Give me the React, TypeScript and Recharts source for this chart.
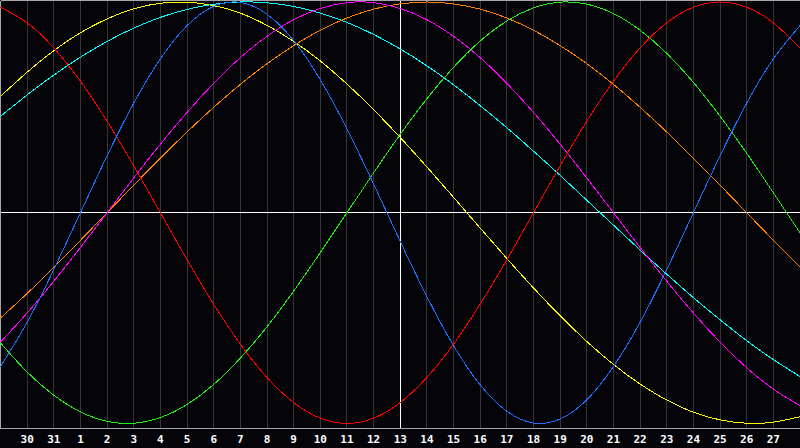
import React from 'react';
import { LineChart, Line, XAxis, YAxis, CartesianGrid, ReferenceLine } from 'recharts';

// day labels, previous month tail then current month
const days = [
  '29', '30', '31', '1', '2', '3', '4', '5', '6', '7', '8', '9', '10', '11', '12', '13',
  '14', '15', '16', '17', '18', '19', '20', '21', '22', '23', '24', '25', '26', '27', '28',
];
const todayLabel = '13';

// values, one per day (-1 .. 1)
const physical = [
  -0.73, -0.52, -0.27, 0, 0.27, 0.52, 0.73, 0.888, 0.979, 0.998, 0.942, 0.817, 0.631, 0.398, 0.136, -0.136,
  -0.398, -0.631, -0.817, -0.942, -0.998, -0.979, -0.888, -0.73, -0.52, -0.27, 0, 0.27, 0.52, 0.73, 0.888,
];
const emotional = [
  0.975, 0.901, 0.782, 0.624, 0.434, 0.223, 0, -0.223, -0.434, -0.624, -0.782, -0.901, -0.975, -1, -0.975, -0.901,
  -0.782, -0.624, -0.434, -0.223, 0, 0.223, 0.434, 0.624, 0.782, 0.901, 0.975, 1, 0.975, 0.901, 0.782,
];
const intellectual = [
  -0.618, -0.756, -0.866, -0.945, -0.99, -0.999, -0.972, -0.91, -0.815, -0.69, -0.541, -0.372, -0.189, 0, 0.189, 0.372,
  0.541, 0.69, 0.815, 0.91, 0.972, 0.999, 0.99, 0.945, 0.866, 0.756, 0.618, 0.458, 0.282, 0.095, -0.095,
];
const intuitive = [
  -0.614, -0.476, -0.325, -0.165, 0, 0.165, 0.325, 0.476, 0.614, 0.736, 0.837, 0.916, 0.969, 0.997, 0.997, 0.969,
  0.916, 0.837, 0.736, 0.614, 0.476, 0.325, 0.165, 0, -0.165, -0.325, -0.476, -0.614, -0.736, -0.837, -0.916,
];
const aesthetic = [
  0.552, 0.667, 0.769, 0.854, 0.92, 0.968, 0.994, 0.999, 0.983, 0.947, 0.889, 0.813, 0.72, 0.611, 0.489, 0.357,
  0.217, 0.073, -0.073, -0.217, -0.357, -0.489, -0.611, -0.72, -0.813, -0.889, -0.947, -0.983, -0.999, -0.994, -0.968,
];
const awareness = [
  -0.5, -0.383, -0.259, -0.131, 0, 0.131, 0.259, 0.383, 0.5, 0.609, 0.707, 0.793, 0.866, 0.924, 0.966, 0.991,
  1, 0.991, 0.966, 0.924, 0.866, 0.793, 0.707, 0.609, 0.5, 0.383, 0.259, 0.131, 0, -0.131, -0.259,
];
const spiritual = [
  0.457, 0.559, 0.653, 0.738, 0.813, 0.876, 0.927, 0.965, 0.989, 1, 0.996, 0.979, 0.947, 0.903, 0.846, 0.777,
  0.697, 0.607, 0.508, 0.403, 0.292, 0.177, 0.059, -0.059, -0.177, -0.292, -0.403, -0.508, -0.607, -0.697, -0.777,
];

const data = days.map((day, i) => ({
  day,
  physical: physical[i],
  emotional: emotional[i],
  intellectual: intellectual[i],
  intuitive: intuitive[i],
  aesthetic: aesthetic[i],
  awareness: awareness[i],
  spiritual: spiritual[i],
}));

const series = [
  { key: 'aesthetic', color: '#ffff00' },
  { key: 'spiritual', color: '#00ffff' },
  { key: 'awareness', color: '#ff8000' },
  { key: 'intuitive', color: '#ff00ff' },
  { key: 'intellectual', color: '#22ee11' },
  { key: 'emotional', color: '#ff0000' },
  { key: 'physical', color: '#1e6eff' },
];

const DayTick = (props: any) => {
  const { x, payload, index } = props;
  if (index === 0 || index === days.length - 1) return <g />;
  return (
    <text
      x={x}
      y={443}
      textAnchor="middle"
      fill="#ffffff"
      fontFamily="'DejaVu Sans Mono', monospace"
      fontWeight="bold"
      fontSize={11}
    >
      {payload.value}
    </text>
  );
};

export default function App() {
  return (
    <div style={{ position: 'absolute', left: 0, top: 0, width: 800, height: 448, background: '#050408' }}>
      <LineChart width={800} height={448} data={data} margin={{ top: 0.5, right: 0, bottom: 0, left: 0.5 }}>
        <CartesianGrid vertical horizontal={false} stroke="#363636" shapeRendering="crispEdges" />
        <XAxis
          dataKey="day"
          interval={0}
          height={19.5}
          tickLine={false}
          axisLine={{ stroke: '#a8a8a8', shapeRendering: 'crispEdges' }}
          tick={<DayTick />}
        />
        <YAxis hide domain={[-1.024, 1.007]} />
        <ReferenceLine x={days[0]} stroke="#a8a8a8" shapeRendering="crispEdges" />
        <ReferenceLine y={1.007} stroke="#a8a8a8" shapeRendering="crispEdges" />
        <ReferenceLine y={0} stroke="#ffffff" shapeRendering="crispEdges" />
        <ReferenceLine x={todayLabel} stroke="#ffffff" shapeRendering="crispEdges" />
        {series.map((s) => (
          <Line
            key={s.key}
            type="natural"
            dataKey={s.key}
            stroke={s.color}
            strokeWidth={1}
            dot={false}
            activeDot={false}
            shapeRendering="crispEdges"
            isAnimationActive={false}
          />
        ))}
      </LineChart>
    </div>
  );
}
